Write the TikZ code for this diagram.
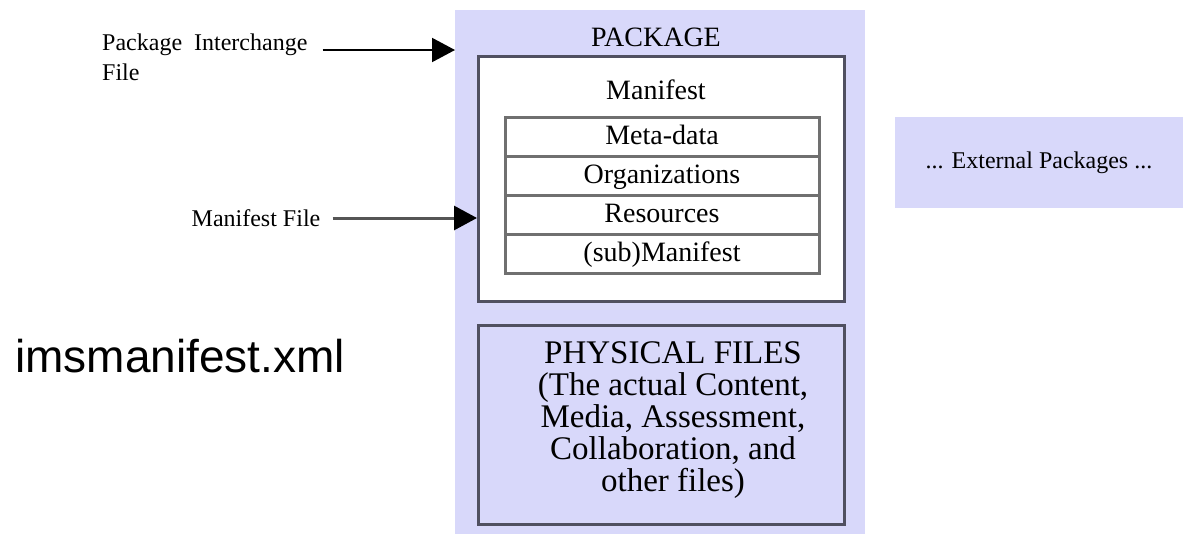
\documentclass[tikz,border=0pt]{standalone}
\usepackage{fontspec}
\setmainfont{Liberation Serif}
\newfontfamily\arialfont{Liberation Sans}
\usetikzlibrary{arrows.meta}
\definecolor{pkgfill}{RGB}{216,216,250}
\definecolor{boxline}{RGB}{80,80,96}
\definecolor{rowline}{RGB}{112,112,112}
\definecolor{arrowgray}{RGB}{85,85,85}
\begin{document}
\begin{tikzpicture}[x=1pt,y=-1pt,line cap=butt,line join=miter,
	>={Triangle[length=23pt,width=24pt,color=black]},
	lbl/.style={font=\fontsize{24}{30}\selectfont,inner sep=0pt},
	pkgbox/.style={fill=pkgfill,draw=none,inner sep=0pt},
	manbox/.style={fill=white,draw=boxline,line width=2.5pt,inner sep=0pt},
	rowbox/.style={draw=rowline,line width=3pt,fill=white,inner sep=0pt,
		text height=21pt,text depth=5pt,
		minimum width=314pt,minimum height=39pt,font=\fontsize{28}{30}\selectfont},
	physbox/.style={fill=pkgfill,draw=boxline,line width=2.5pt,inner sep=0pt}]
	\useasboundingbox (0,0) rectangle (1183,533);
	
	% package with its manifest and files
	\node[pkgbox,anchor=north west,minimum width=410pt,minimum height=530pt] (pkg) at (455,10) {};
	\node[font=\fontsize{28}{30}\selectfont] (pkgname) at (656,37) {PACKAGE};
	\node[manbox,anchor=north west,minimum width=366pt,minimum height=245pt] (man) at (477,55) {};
	\node[font=\fontsize{28}{30}\selectfont] (mantitle) at (656,90) {Manifest};
	\foreach \t [count=\i] in {{Meta-data},{Organizations},{Resources},{(sub)Manifest}}{
		\node[rowbox] (row\i) at (662,{97.5+39*\i}) {\t};
	}
	\node[physbox,anchor=north west,minimum width=366pt,minimum height=199pt] (phys) at (477,324) {};
	\node[font=\fontsize{33}{32}\selectfont,align=center] (physlbl) at (673,420)
	{PHYSICAL FILES\\(The actual Content,\\Media, Assessment,\\Collaboration, and\\other files)};
	
	\node[pkgbox,minimum width=288pt,minimum height=91pt,font=\fontsize{24}{30}\selectfont] (ext)
	at (1039,162.5) {... External Packages ...};
	
	% labels on the left
	\node[lbl,anchor=base west] (pif) at (102,50) {Package\ \ Interchange};
	\node[lbl,anchor=base west] (piffile) at (102,80) {File};
	\draw[->,line width=2pt] ([xshift=15pt]pif.base east) -- (pif.base -| pkg.west);
	\node[lbl] (mf) at (256,218) {Manifest File};
	\draw[->,line width=3pt,draw=arrowgray] ([xshift=12pt]mf.east) -- (mf.east -| man.west);
	
	\node[font=\arialfont\fontsize{46}{50}\selectfont,anchor=base west,inner sep=0pt] (xmlname)
	at (15,372) {imsmanifest.xml};
\end{tikzpicture}
\end{document}
